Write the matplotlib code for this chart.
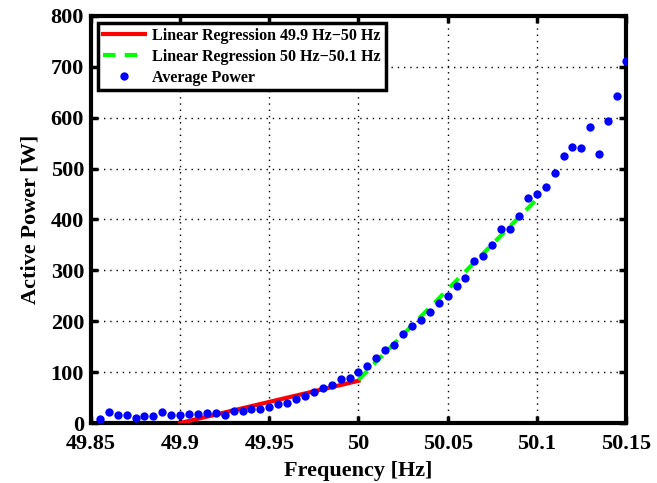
import numpy as np
import matplotlib
matplotlib.use("Agg")
from matplotlib import pyplot as plt

# measured average power per frequency step
freq = [49.855, 49.860, 49.865, 49.870, 49.875, 49.880, 49.885, 49.890, 49.895, 49.900,
        49.905, 49.910, 49.915, 49.920, 49.925, 49.930, 49.935, 49.940, 49.945, 49.950,
        49.955, 49.960, 49.965, 49.970, 49.975, 49.980, 49.985, 49.990, 49.995, 50.000,
        50.005, 50.010, 50.015, 50.020, 50.025, 50.030, 50.035, 50.040, 50.045, 50.050,
        50.055, 50.060, 50.065, 50.070, 50.075, 50.080, 50.085, 50.090, 50.095, 50.100,
        50.105, 50.110, 50.115, 50.120, 50.125, 50.130, 50.135, 50.140, 50.145, 50.150]
avg_power = [8, 22, 15, 15, 10, 13, 13, 21, 15, 15,
             18, 18, 19, 20, 16, 24, 24, 27, 28, 31,
             37, 39, 48, 53, 60, 68, 75, 87, 88, 101,
             113, 127, 143, 154, 175, 191, 202, 219, 235, 250,
             269, 286, 319, 328, 350, 382, 382, 407, 443, 450,
             463, 491, 524, 542, 540, 582, 529, 594, 643, 712]

# regression lines (end points)
reg_low_f = [49.9, 50.0]
reg_low_p = [0, 83]
reg_high_f = [50.0, 50.1]
reg_high_p = [85, 440]

xticks = [49.85, 49.9, 49.95, 50, 50.05, 50.1, 50.15]
xticklabels = ["49.85", "49.9", "49.95", "50", "50.05", "50.1", "50.15"]
yticks = [0, 100, 200, 300, 400, 500, 600, 700, 800]

plt.rcParams['font.family'] = ['Liberation Serif', 'DejaVu Serif']
plt.rcParams['font.weight'] = 'bold'

fig = plt.figure(figsize=(6.57, 4.83), dpi=100)
ax = fig.add_axes([0.1385, 0.1242, 0.8143, 0.8427])

ax.plot(reg_low_f, reg_low_p, color=(1, 0, 0), lw=3, label="Linear Regression 49.9 Hz\u221250 Hz", zorder=3)
ax.plot(reg_high_f, reg_high_p, color=(0, 1, 0), lw=3, ls=(0, (3, 2.2)),
        label="Linear Regression 50 Hz\u221250.1 Hz", zorder=3)
ax.plot(freq, avg_power, ls="none", marker="o", ms=6, color=(0, 0, 1), mec="none",
        label="Average Power", zorder=4)

ax.set_xlim(49.85, 50.15)
ax.set_ylim(0, 800)
ax.set_xticks(xticks)
ax.set_xticklabels(xticklabels)
ax.set_yticks(yticks)

ax.grid(True, color="black", ls=(0, (1, 3.5)), lw=1.0)
ax.tick_params(direction="in", length=5, width=2.5, labelsize=16, top=True, right=True)
ax.tick_params(axis="x", pad=8)
ax.tick_params(axis="y", pad=5)
for s in ax.spines.values():
    s.set_linewidth(3)

ax.set_xlabel("Frequency [Hz]", fontsize=16, fontweight="bold", labelpad=5)
ax.set_ylabel("Active Power [W]", fontsize=16, fontweight="bold", labelpad=7)

leg = ax.legend(loc="upper left", fontsize=11.5, fancybox=False, framealpha=1,
                edgecolor="black", handlelength=2.6, borderaxespad=0.45,
                borderpad=0.3, labelspacing=0.3, handletextpad=0.5)
leg.get_frame().set_linewidth(2.5)

fig.savefig("out.png", dpi=100)
